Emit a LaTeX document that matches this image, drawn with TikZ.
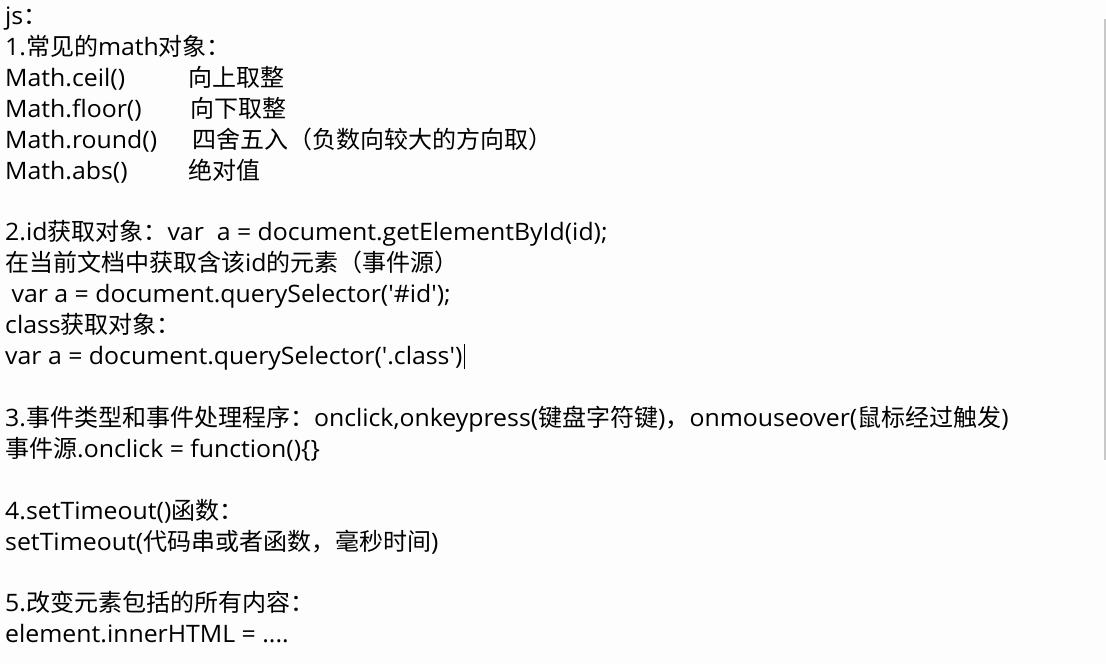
\documentclass[tikz,border=0pt]{standalone}
\usepackage{fontspec}
\setmainfont{Open Sans}[Ligatures=TeXOff,FakeStretch=1.035]
\newfontfamily\cjkf{Noto Sans CJK SC}[Ligatures=TeXOff]
\newcommand{\cj}[1]{{\cjkf\fontsize{24}{28}\selectfont #1}}
\definecolor{bg}{HTML}{FDFDFD}
\definecolor{edge}{HTML}{C8C8C8}
\begin{document}
\begin{tikzpicture}[x=1pt,y=-1pt,
  txt/.style={anchor=base west,inner sep=0pt,font=\fontsize{24}{28}\selectfont,text=black}]
\fill[bg] (0,0) rectangle (1106,664);
\useasboundingbox (0,0) rectangle (1106,664);
\draw[edge,line width=1.2pt] (1105,19) coordinate (e1) -- (1105,460) coordinate (e2);
\node[txt] (l0) at (5,24) {js\cj{：}};
\node[txt] (l1) at (5,55) {1.\cj{常见的}math\cj{对象：}};
\node[txt] (l2) at (5,86) {Math.ceil()};
\node[txt] (l2b) at (188,86) {\cj{向上取整}};
\node[txt] (l3) at (5,117) {Math.floor()};
\node[txt] (l3b) at (190,117) {\cj{向下取整}};
\node[txt] (l4) at (5,148) {Math.round()};
\node[txt] (l4b) at (192,148) {\cj{四舍五入（负数向较大的方向取）}};
\node[txt] (l5) at (5,179) {Math.abs()};
\node[txt] (l5b) at (188,179) {\cj{绝对值}};
\node[txt] (l7) at (5,240) {2.id\cj{获取对象：}var\ \ a = document.getElementById(id);};
\node[txt] (l8) at (5,271) {\cj{在当前文档中获取含该}id\cj{的元素（事件源）}};
\node[txt] (l9) at (5,302) {\ var a = document.querySelector('\#id');};
\node[txt] (l10) at (5,333) {class\cj{获取对象：}};
\node[txt] (l11) at (5,364) {var a = document.querySelector('.class')};
\draw[black,line width=1pt] (l11.base east) ++(2,5) coordinate (c1) -- ++(0,-25) coordinate (c2);
\node[txt] (l13) at (5,426) {3.\cj{事件类型和事件处理程序：}onclick,onkeypress(\cj{键盘字符键})\cj{，}onmouseover(\cj{鼠标经过触发})};
\node[txt] (l14) at (5,457) {\cj{事件源}.onclick = function()\{\}};
\node[txt] (l16) at (5,519) {4.setTimeout()\cj{函数：}};
\node[txt] (l17) at (5,550) {setTimeout(\cj{代码串或者函数，毫秒时间})};
\node[txt] (l19) at (5,611) {5.\cj{改变元素包括的所有内容：}};
\node[txt] (l20) at (5,642) {element.innerHTML = ....};
\end{tikzpicture}
\end{document}
